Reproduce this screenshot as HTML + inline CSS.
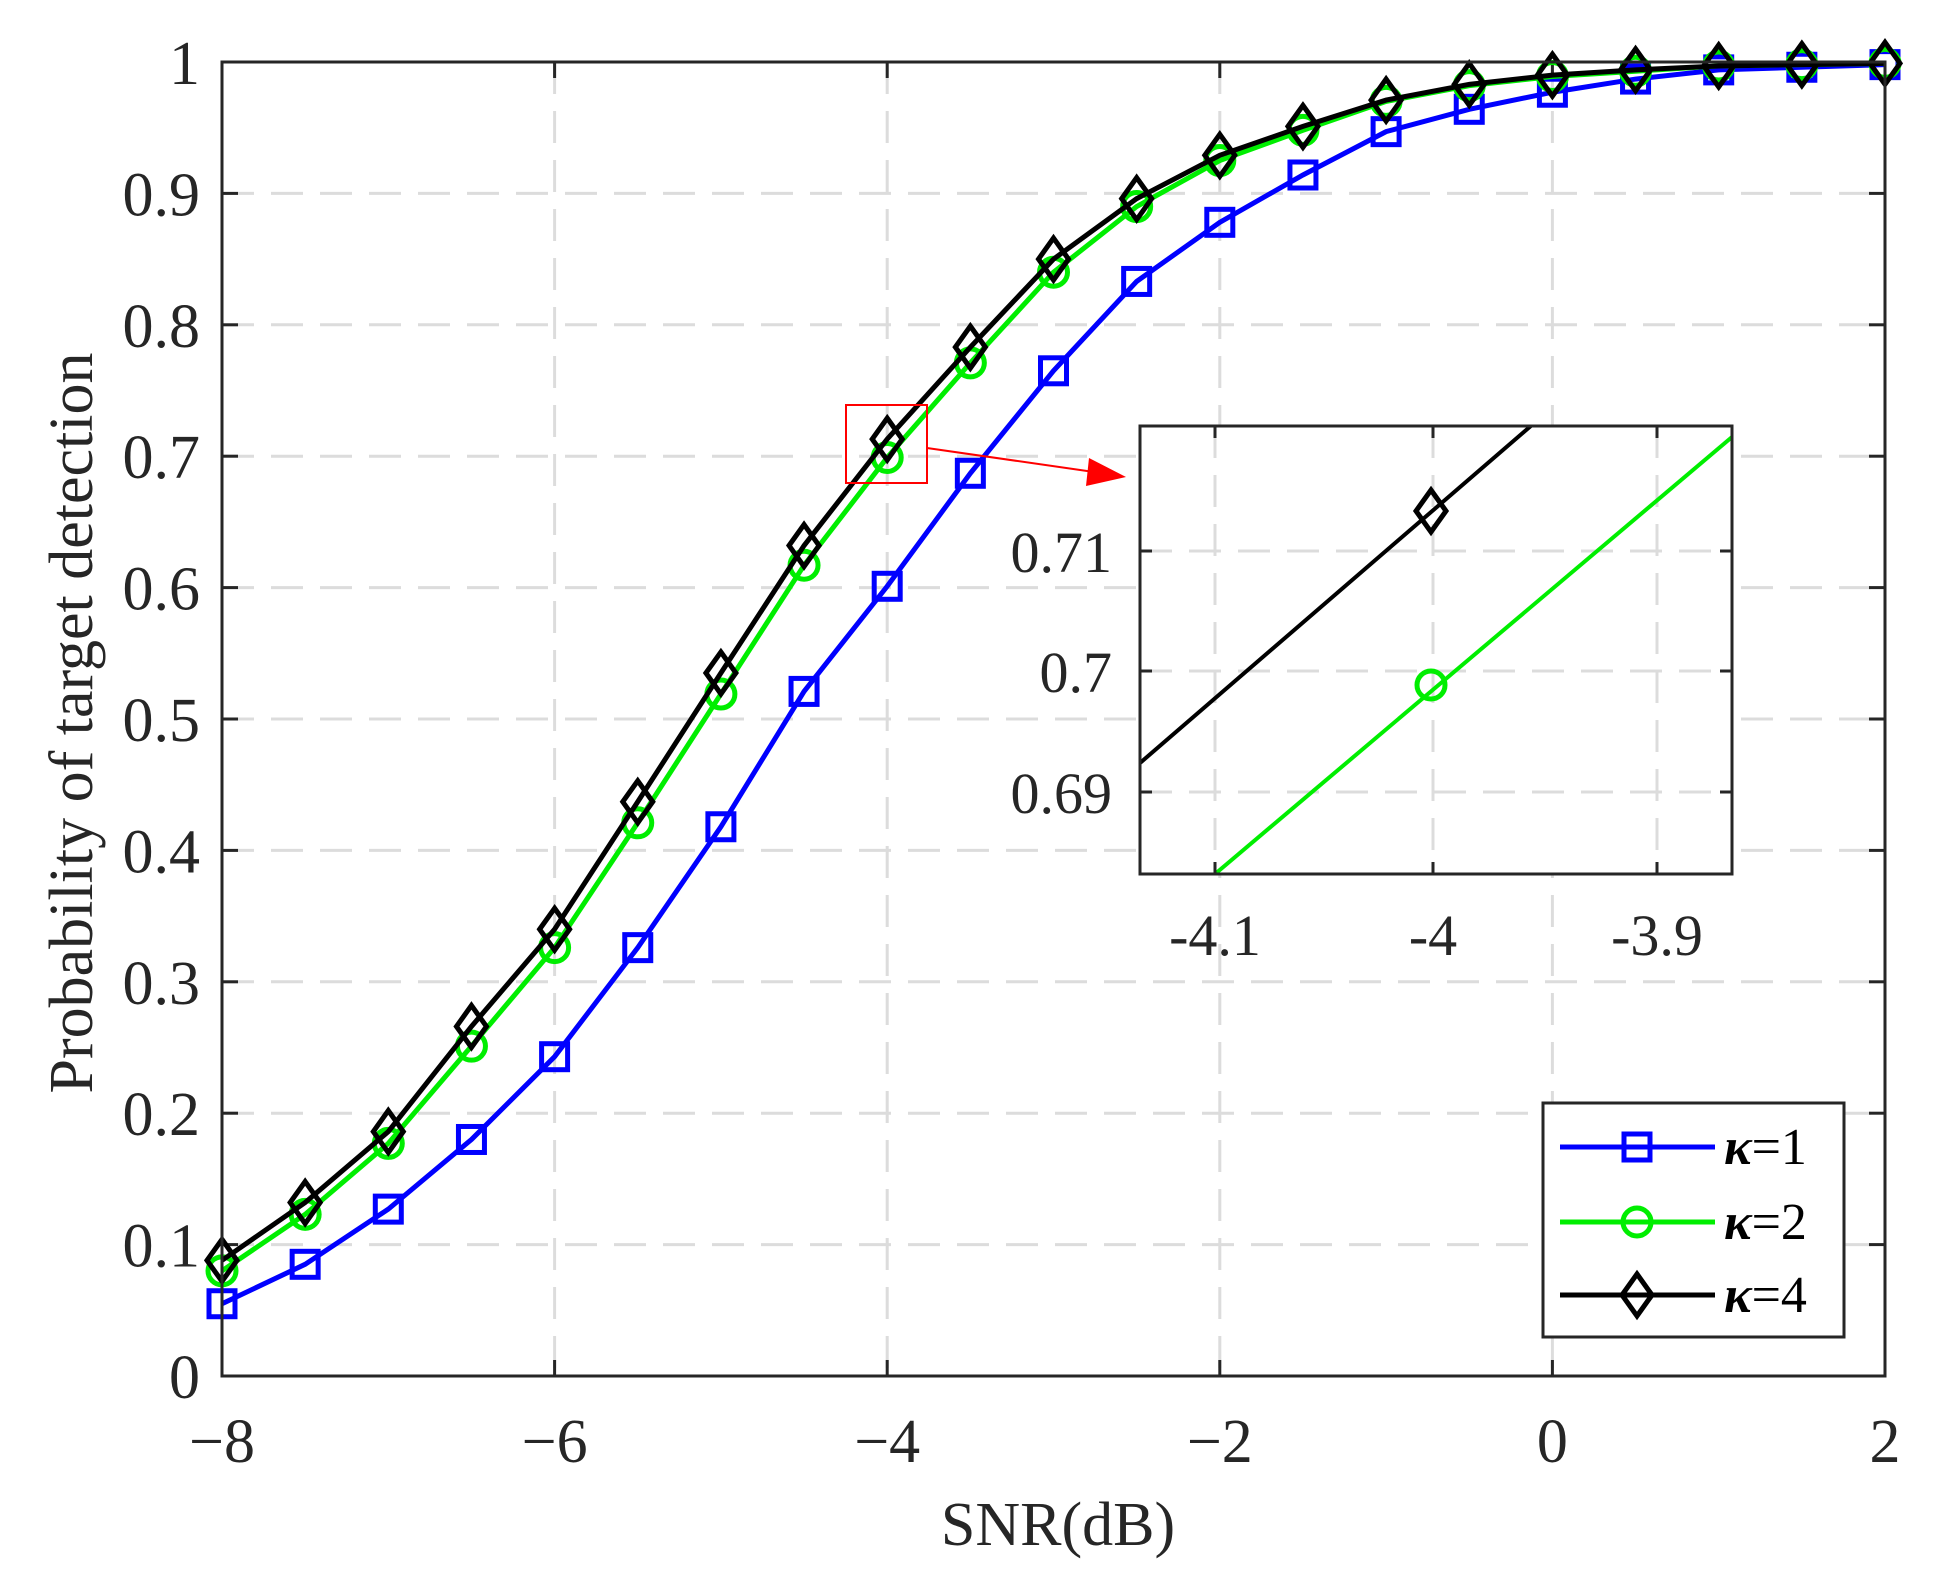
<!DOCTYPE html>
<html><head><meta charset="utf-8"><style>
html,body{margin:0;padding:0;background:#fff;}
svg{display:block;font-family:"Liberation Serif",serif;}
</style></head><body>
<svg id="s" width="1935" height="1571" viewBox="0 0 1935 1571" xmlns="http://www.w3.org/2000/svg"></svg>
<script>
const S=document.getElementById('s');let h='';
const X0=222,X1=1885,Y0=62,Y1=1376;
const xp=x=>X0+(x+8)*(X1-X0)/10, yp=p=>Y1-(Y1-Y0)*p;
for(let x=-6;x<=0;x+=2)h+=`<line x1="${xp(x)}" y1="${Y0}" x2="${xp(x)}" y2="${Y1}" stroke="#dcdcdc" stroke-width="3" stroke-dasharray="32,17"/>`;
for(let i=1;i<=9;i++){let y=yp(i/10);h+=`<line x1="${X0}" y1="${y}" x2="${X1}" y2="${y}" stroke="#dcdcdc" stroke-width="3" stroke-dasharray="32,17"/>`;}
for(let x=-8;x<=2;x+=2){let X=xp(x);h+=`<line x1="${X}" y1="${Y1}" x2="${X}" y2="${Y1-16}" stroke="#262626" stroke-width="3"/><line x1="${X}" y1="${Y0}" x2="${X}" y2="${Y0+16}" stroke="#262626" stroke-width="3"/>`;
h+=`<text x="${X}" y="1462" font-size="62" text-anchor="middle" fill="#262626">${x<0?'\u2212'+(-x):x}</text>`;}
for(let i=0;i<=10;i++){let Y=yp(i/10);h+=`<line x1="${X0}" y1="${Y}" x2="${X0+16}" y2="${Y}" stroke="#262626" stroke-width="3"/><line x1="${X1}" y1="${Y}" x2="${X1-16}" y2="${Y}" stroke="#262626" stroke-width="3"/>`;
let l=i==0?'0':i==10?'1':'0.'+i;h+=`<text x="200" y="${Y+22}" font-size="62" text-anchor="end" fill="#262626">${l}</text>`;}
h+=`<text x="1058" y="1545" font-size="62" text-anchor="middle" fill="#262626">SNR(dB)</text>`;
h+=`<text transform="translate(92,723) rotate(-90)" font-size="62" text-anchor="middle" fill="#262626">Probability of target detection</text>`;
const k1=[0.055,0.085,0.127,0.180,0.243,0.326,0.418,0.521,0.601,0.687,0.765,0.833,0.878,0.914,0.947,0.964,0.977,0.987,0.994,0.996,0.998];
const k2=[0.080,0.123,0.177,0.251,0.326,0.421,0.519,0.617,0.699,0.771,0.840,0.890,0.925,0.948,0.970,0.982,0.989,0.993,0.997,0.998,0.999];
const k4=[0.088,0.132,0.186,0.266,0.340,0.437,0.535,0.632,0.713,0.783,0.850,0.896,0.929,0.951,0.971,0.983,0.990,0.994,0.997,0.998,0.999];
const sq=(x,y,c)=>`<rect x="${x-13}" y="${y-13}" width="26" height="26" fill="none" stroke="${c}" stroke-width="5"/>`;
const ci=(x,y,c)=>`<circle cx="${x}" cy="${y}" r="14" fill="none" stroke="${c}" stroke-width="5"/>`;
const di=(x,y,c)=>`<polygon points="${x},${y-21} ${x+15},${y} ${x},${y+21} ${x-15},${y}" fill="none" stroke="${c}" stroke-width="5"/>`;
function ser(d,c,m){let pts=d.map((p,i)=>[xp(-8+i*0.5),yp(p)]);
h+=`<polyline points="${pts.map(p=>p.join(',')).join(' ')}" fill="none" stroke="${c}" stroke-width="5"/>`;
pts.forEach(p=>h+=m(p[0],p[1],c));}
ser(k1,'#0000ff',sq);ser(k2,'#00ee00',ci);ser(k4,'#000000',di);
h+=`<rect x="${X0}" y="${Y0}" width="${X1-X0}" height="${Y1-Y0}" fill="none" stroke="#262626" stroke-width="3"/>`;
h+=`<rect x="846" y="405" width="81" height="78" fill="none" stroke="#ff0000" stroke-width="2"/>`;
h+=`<line x1="927" y1="448" x2="1094" y2="472" stroke="#ff0000" stroke-width="2"/><polygon points="1126,477 1089,458 1086,486" fill="#ff0000"/>`;
const IX0=1140,IX1=1732,IY0=426,IY1=874;
h+=`<rect x="${IX0}" y="${IY0}" width="${IX1-IX0}" height="${IY1-IY0}" fill="#fff"/>`;
h+=`<defs><clipPath id="c"><rect x="${IX0}" y="${IY0}" width="${IX1-IX0}" height="${IY1-IY0}"/></clipPath></defs>`;
[1215,1433,1657].forEach(x=>h+=`<line x1="${x}" y1="${IY0}" x2="${x}" y2="${IY1}" stroke="#dcdcdc" stroke-width="3" stroke-dasharray="32,17"/>`);
[551,671,792].forEach(y=>h+=`<line x1="${IX0}" y1="${y}" x2="${IX1}" y2="${y}" stroke="#dcdcdc" stroke-width="3" stroke-dasharray="32,17"/>`);
h+=`<g clip-path="url(#c)"><line x1="1140" y1="763" x2="1532" y2="425" stroke="#000" stroke-width="4"/><line x1="1215" y1="874" x2="1732" y2="437" stroke="#00ee00" stroke-width="4"/></g>`;
h+=di(1431,511,'#000')+ci(1431,685,'#00ee00');
[[1215,'-4.1'],[1433,'-4'],[1657,'-3.9']].forEach(([x,l])=>{h+=`<line x1="${x}" y1="${IY1}" x2="${x}" y2="${IY1-12}" stroke="#262626" stroke-width="3"/><line x1="${x}" y1="${IY0}" x2="${x}" y2="${IY0+12}" stroke="#262626" stroke-width="3"/><text x="${x}" y="955" font-size="58" text-anchor="middle" fill="#262626">${l}</text>`;});
[[551,'0.71'],[671,'0.7'],[792,'0.69']].forEach(([y,l])=>{h+=`<line x1="${IX0}" y1="${y}" x2="${IX0+12}" y2="${y}" stroke="#262626" stroke-width="3"/><line x1="${IX1}" y1="${y}" x2="${IX1-12}" y2="${y}" stroke="#262626" stroke-width="3"/><text x="1112" y="${y+21}" font-size="58" text-anchor="end" fill="#262626">${l}</text>`;});
h+=`<rect x="${IX0}" y="${IY0}" width="${IX1-IX0}" height="${IY1-IY0}" fill="none" stroke="#262626" stroke-width="3"/>`;
h+=`<rect x="1543" y="1103" width="301" height="234" fill="#fff" stroke="#262626" stroke-width="3"/>`;
[[1147,'#0000ff',sq,'1'],[1222,'#00ee00',ci,'2'],[1295,'#000',di,'4']].forEach(([y,c,m,n])=>{
h+=`<line x1="1560" y1="${y}" x2="1715" y2="${y}" stroke="${c}" stroke-width="5"/>`+m(1637,y,c);
h+=`<text x="1724" y="${y+17}" font-size="52" fill="#000"><tspan font-weight="bold" font-style="italic">κ</tspan>=${n}</text>`;});
S.innerHTML=h;
</script>
</body></html>
